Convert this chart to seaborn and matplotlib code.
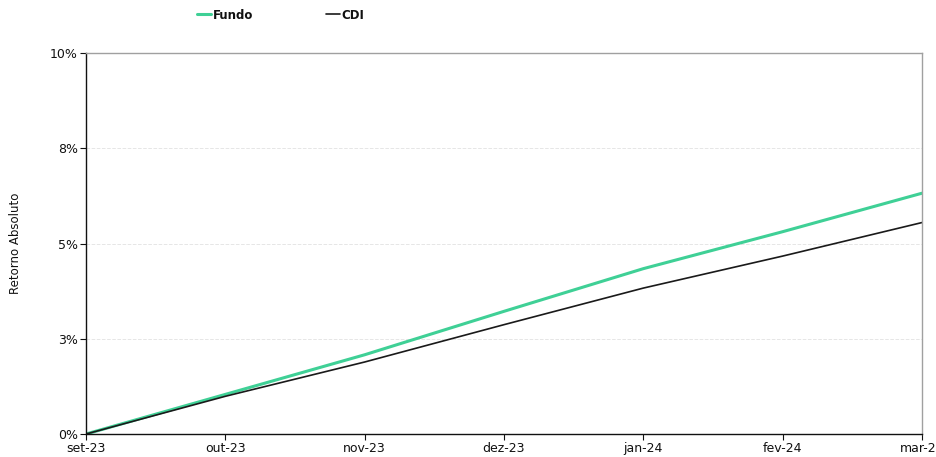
import numpy as np
import pandas as pd
import seaborn as sns
import matplotlib.pyplot as plt
from matplotlib.ticker import FuncFormatter

# monthly cumulative return (%)
months = ["set-23", "out-23", "nov-23", "dez-23", "jan-24", "fev-24", "mar-24"]
fundo = [0.0, 1.04, 2.08, 3.22, 4.34, 5.31, 6.32]
cdi = [0.0, 0.99, 1.89, 2.87, 3.83, 4.67, 5.55]
y_ticks = [0, 2.5, 5, 7.5, 10]

GREEN = "#3fd096"
BLACK = "#1a1a1a"


def build_df() -> pd.DataFrame:
    idx = list(range(len(months)))
    df = pd.concat([
        pd.DataFrame({"pos": idx, "ret": fundo, "serie": "Fundo"}),
        pd.DataFrame({"pos": idx, "ret": cdi, "serie": "CDI"}),
    ], ignore_index=True)
    return df


def main():
    sns.set_theme(style="white")
    plt.rcParams['font.family'] = ['DejaVu Sans']

    df = build_df()
    fig = plt.figure(figsize=(9.36, 4.57), dpi=100)
    ax = fig.add_axes([0.0919, 0.0503, 0.985 - 0.0919, 0.884 - 0.0503])

    sns.lineplot(data=df, x="pos", y="ret", hue="serie", size="serie",
                 palette={"Fundo": GREEN, "CDI": BLACK},
                 sizes={"Fundo": 2.2, "CDI": 1.2}, ax=ax, legend=False)

    ax.set_xlim(0, len(months) - 1)
    ax.set_ylim(0, 10)
    ax.set_xticks(range(len(months)))
    ax.set_xticklabels(months)
    ax.set_yticks(y_ticks)
    # excel style rounding: 2.5 -> 3%, 7.5 -> 8%
    ax.yaxis.set_major_formatter(FuncFormatter(lambda v, p: f"{int(v + 0.5)}%"))
    ax.tick_params(axis="both", labelsize=9, length=4, width=0.8,
                   direction="out", colors="#111111", pad=2)
    ax.tick_params(axis="both", left=True, bottom=True)

    ax.grid(axis="y", color="#e6e6e6", linestyle="--", linewidth=0.7)
    ax.set_axisbelow(True)
    for side in ["left", "bottom"]:
        ax.spines[side].set_color("#111111")
        ax.spines[side].set_linewidth(1.0)
    for side in ["top", "right"]:
        ax.spines[side].set_color("#a0a0a0")
        ax.spines[side].set_linewidth(1.0)

    ax.set_xlabel("")
    ax.set_ylabel("Retorno Absoluto", fontsize=8.5, color="#111111")
    ax.yaxis.set_label_coords(-0.077, 0.5)

    # legend at the top
    handles = [plt.Line2D([], [], color=GREEN, lw=2.2),
               plt.Line2D([], [], color=BLACK, lw=1.2)]
    fig.legend(handles, ["Fundo", "CDI"], ncol=2, frameon=False,
               loc="center", bbox_to_anchor=(0.3, 0.967),
               handlelength=1.2, handletextpad=0.1, columnspacing=6.2,
               prop={"size": 8.5, "weight": "bold"}, labelcolor="#111111")

    fig.savefig("out.png", dpi=100)


if __name__ == '__main__':
    main()
